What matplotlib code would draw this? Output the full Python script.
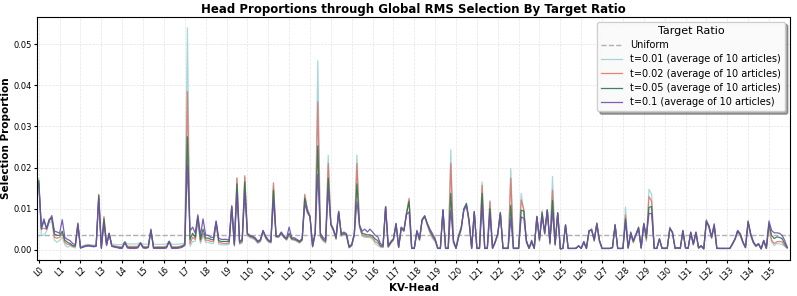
import numpy as np
import matplotlib
matplotlib.use("Agg")
import matplotlib.pyplot as plt

# selection proportion per KV head (36 layers x 8 heads), in units of 1e-3
n_layers = 36
heads_per_layer = 8

t001 = [
    17.3, 3.6, 3.5, 4.5, 6.5, 7.0, 2.3, 1.8,
    2.3, 3.0, 1.2, 0.6, 1.0, 0.6, 0.4, 5.8,
    0.7, 1.0, 1.2, 1.3, 1.2, 1.1, 1.2, 13.0,
    0.8, 7.5, 1.5, 3.5, 1.4, 1.3, 1.2, 1.2,
    1.3, 2.0, 1.4, 1.4, 1.4, 1.4, 1.4, 1.8,
    1.4, 1.3, 1.4, 4.3, 1.3, 1.3, 1.3, 1.3,
    1.3, 1.4, 2.1, 1.3, 1.3, 1.3, 1.4, 1.5,
    1.6, 54.0, 0.8, 2.0, 2.0, 7.0, 1.5, 3.5,
    1.8, 1.8, 1.5, 1.5, 6.3, 1.3, 1.2, 1.1,
    1.2, 1.3, 10.5, 0.8, 17.3, 1.3, 1.6, 17.6,
    3.4, 2.9, 2.7, 2.3, 1.5, 1.9, 4.4, 2.7,
    1.9, 1.6, 15.5, 3.0, 3.0, 3.9, 2.9, 2.3,
    3.4, 2.4, 2.3, 2.0, 1.6, 2.2, 13.0, 10.0,
    8.4, 0.6, 4.0, 46.0, 3.0, 2.1, 1.6, 23.0,
    5.9, 4.5, 2.5, 9.5, 3.3, 3.7, 3.3, 0.4,
    0.9, 3.5, 23.0, 5.5, 3.3, 3.0, 3.0, 2.9,
    2.5, 1.5, 1.0, 0.6, 0.5, 10.5, 0.5, 1.5,
    2.3, 6.1, 0.5, 5.2, 4.4, 9.0, 12.0, 0.3,
    0.3, 4.2, 2.2, 7.0, 7.9, 5.8, 4.0, 2.7,
    1.9, 0.3, 0.3, 9.6, 0.3, 0.3, 24.3, 1.6,
    0.3, 2.8, 4.8, 9.6, 10.5, 6.6, 0.3, 9.0,
    0.3, 0.3, 16.5, 0.3, 0.3, 12.0, 0.3, 1.6,
    3.6, 9.2, 0.3, 0.3, 0.3, 19.8, 0.3, 0.3,
    0.3, 13.7, 9.2, 1.6, 0.3, 1.6, 0.3, 8.2,
    2.0, 9.5, 3.6, 9.6, 1.2, 17.8, 1.0, 8.9,
    0.2, 0.3, 6.1, 0.3, 0.3, 0.3, 0.3, 0.8,
    0.3, 1.7, 0.3, 4.2, 5.2, 2.0, 6.6, 1.9,
    0.3, 0.3, 0.3, 0.3, 0.5, 6.2, 0.3, 0.3,
    0.3, 10.4, 0.3, 3.6, 1.6, 3.6, 5.0, 0.3,
    6.5, 2.0, 14.7, 13.5, 0.3, 0.3, 2.4, 0.3,
    0.3, 0.3, 5.5, 3.8, 0.3, 0.3, 0.3, 4.4,
    0.3, 0.3, 4.0, 1.1, 4.0, 0.3, 0.7, 0.2,
    7.0, 5.2, 2.7, 5.6, 0.3, 0.3, 0.3, 0.3,
    0.3, 0.3, 1.2, 2.4, 4.2, 3.3, 1.6, 0.4,
    6.4, 3.3, 1.6, 0.7, 1.2, 0.2, 2.0, 0.3,
    5.5, 1.9, 1.0, 1.5, 1.4, 1.3, 0.8, 0.3,
]

t002 = [
    16.5, 5.0, 5.2, 5.0, 7.5, 7.5, 3.0, 2.8,
    3.0, 4.0, 1.8, 1.3, 1.2, 0.8, 0.7, 6.2,
    0.5, 0.8, 1.0, 1.1, 1.0, 0.9, 1.0, 13.5,
    0.5, 8.1, 1.3, 3.8, 1.0, 0.9, 0.8, 0.7,
    0.7, 1.9, 0.8, 0.8, 0.8, 0.8, 0.8, 1.7,
    0.8, 0.7, 0.8, 4.6, 0.7, 0.7, 0.7, 0.7,
    0.7, 0.8, 2.0, 0.7, 0.7, 0.7, 0.8, 1.0,
    1.4, 38.5, 1.5, 3.0, 2.5, 7.5, 2.0, 4.0,
    2.3, 2.3, 2.0, 2.0, 6.6, 1.8, 1.6, 1.5,
    1.5, 1.6, 10.8, 1.0, 17.5, 1.5, 1.9, 18.0,
    3.6, 3.1, 2.9, 2.5, 1.7, 2.1, 4.5, 2.9,
    2.0, 1.7, 16.3, 3.1, 3.1, 4.0, 3.0, 2.4,
    3.6, 2.5, 2.4, 2.1, 1.7, 2.3, 13.5, 9.8,
    8.2, 0.7, 4.0, 36.0, 3.2, 2.3, 1.8, 21.0,
    6.0, 4.6, 2.6, 9.3, 3.4, 3.8, 3.4, 0.5,
    1.0, 3.6, 21.0, 5.6, 3.6, 3.3, 3.2, 3.2,
    2.9, 2.0, 1.6, 0.8, 0.6, 10.5, 0.6, 1.6,
    2.4, 6.2, 0.5, 5.3, 4.5, 8.9, 12.5, 0.3,
    0.3, 4.3, 2.3, 7.2, 8.1, 6.0, 4.3, 3.0,
    2.1, 0.3, 0.3, 9.7, 0.3, 0.3, 21.0, 1.8,
    0.3, 3.0, 5.0, 9.8, 10.8, 6.8, 0.3, 9.2,
    0.3, 0.3, 15.7, 0.3, 0.3, 11.7, 0.3, 1.7,
    3.7, 9.0, 0.3, 0.3, 0.3, 17.4, 0.3, 0.3,
    0.3, 12.1, 9.8, 1.8, 0.3, 1.8, 0.3, 8.1,
    2.2, 9.2, 3.8, 9.7, 1.4, 14.5, 1.1, 9.0,
    0.2, 0.3, 6.0, 0.3, 0.3, 0.3, 0.3, 0.9,
    0.3, 1.8, 0.3, 4.4, 5.0, 2.1, 6.4, 2.0,
    0.3, 0.3, 0.3, 0.3, 0.5, 6.1, 0.3, 0.3,
    0.3, 8.4, 0.4, 3.8, 1.8, 3.9, 5.3, 0.4,
    6.4, 2.4, 12.9, 11.8, 0.3, 0.3, 2.5, 0.3,
    0.3, 0.3, 5.4, 4.0, 0.3, 0.4, 0.3, 4.5,
    0.4, 0.3, 4.1, 1.2, 4.1, 0.4, 0.8, 0.2,
    7.3, 5.4, 2.8, 5.8, 0.3, 0.3, 0.3, 0.3,
    0.3, 0.3, 1.3, 2.5, 4.4, 3.5, 1.7, 0.5,
    6.6, 3.5, 1.7, 0.8, 1.3, 0.2, 2.1, 0.3,
    6.0, 2.3, 1.5, 1.9, 2.0, 1.9, 1.0, 0.4,
]

t005 = [
    16.8, 5.0, 7.0, 5.2, 7.2, 7.8, 3.8, 3.5,
    3.5, 4.5, 2.3, 1.8, 1.5, 1.0, 0.9, 6.0,
    0.4, 0.7, 0.9, 1.0, 0.9, 0.8, 0.9, 13.2,
    0.4, 7.5, 1.2, 4.0, 0.9, 0.8, 0.6, 0.5,
    0.5, 1.8, 0.6, 0.5, 0.5, 0.5, 0.6, 1.6,
    0.6, 0.5, 0.6, 4.8, 0.5, 0.5, 0.5, 0.5,
    0.5, 0.6, 2.0, 0.5, 0.5, 0.5, 0.6, 0.8,
    1.2, 27.5, 2.5, 4.0, 3.0, 8.0, 2.5, 5.0,
    2.8, 2.8, 2.5, 2.4, 6.8, 2.2, 2.0, 2.0,
    2.0, 2.0, 10.5, 1.2, 16.0, 1.8, 2.2, 16.5,
    3.8, 3.3, 3.1, 2.7, 1.9, 2.3, 4.6, 3.1,
    2.2, 1.9, 14.5, 3.2, 3.2, 4.1, 3.1, 2.6,
    4.0, 2.7, 2.6, 2.3, 1.9, 2.5, 12.5, 9.5,
    8.0, 0.8, 4.0, 25.3, 3.5, 2.6, 2.1, 17.4,
    6.2, 4.8, 2.8, 9.2, 3.6, 4.0, 3.6, 0.6,
    1.1, 3.7, 16.0, 5.8, 4.0, 3.8, 3.6, 3.6,
    3.3, 2.6, 2.2, 1.0, 0.8, 10.4, 0.8, 1.8,
    2.5, 6.3, 0.6, 5.4, 4.6, 8.7, 11.7, 0.3,
    0.3, 4.5, 2.5, 7.4, 8.3, 6.3, 4.6, 3.4,
    2.4, 0.3, 0.3, 9.7, 0.3, 0.3, 13.7, 2.0,
    0.3, 3.2, 5.2, 10.0, 11.3, 7.0, 0.3, 9.3,
    0.3, 0.3, 13.7, 0.3, 0.3, 10.0, 0.3, 1.8,
    3.8, 9.0, 0.3, 0.3, 0.3, 10.8, 0.3, 0.3,
    0.3, 9.6, 9.4, 2.0, 0.3, 2.0, 0.3, 8.0,
    2.4, 9.0, 4.0, 9.7, 1.6, 12.0, 1.3, 9.0,
    0.2, 0.3, 6.0, 0.3, 0.3, 0.3, 0.3, 0.9,
    0.3, 1.9, 0.3, 4.6, 4.8, 2.3, 6.2, 2.2,
    0.3, 0.3, 0.3, 0.3, 0.5, 6.0, 0.3, 0.3,
    0.3, 7.5, 0.4, 4.0, 2.0, 3.7, 5.5, 0.4,
    6.3, 2.8, 10.3, 10.5, 0.3, 0.3, 2.6, 0.3,
    0.3, 0.3, 5.2, 4.2, 0.3, 0.4, 0.3, 4.6,
    0.4, 0.3, 4.2, 1.3, 4.2, 0.4, 0.9, 0.2,
    7.0, 5.6, 3.0, 6.0, 0.3, 0.3, 0.3, 0.3,
    0.3, 0.3, 1.4, 2.6, 4.6, 3.7, 1.8, 0.5,
    7.0, 3.7, 1.8, 0.9, 1.4, 0.2, 2.2, 0.3,
    6.3, 3.5, 2.7, 3.1, 3.0, 2.7, 1.5, 0.5,
]

t01 = [
    16.0, 5.5, 7.5, 5.0, 7.0, 8.3, 4.5, 4.3,
    4.0, 7.3, 3.0, 2.5, 2.2, 1.5, 1.2, 6.5,
    0.4, 0.6, 0.8, 0.9, 0.8, 0.7, 0.8, 12.5,
    0.3, 6.5, 1.0, 4.0, 0.8, 0.6, 0.5, 0.3,
    0.3, 1.7, 0.4, 0.3, 0.3, 0.3, 0.4, 1.5,
    0.4, 0.3, 0.5, 5.0, 0.3, 0.3, 0.3, 0.3,
    0.3, 0.4, 2.0, 0.3, 0.3, 0.3, 0.4, 0.6,
    1.0, 20.5, 4.5, 5.5, 4.0, 8.5, 3.5, 7.5,
    3.5, 3.5, 3.0, 3.0, 7.0, 2.8, 2.5, 2.5,
    2.5, 2.3, 10.4, 1.5, 13.5, 2.0, 2.5, 13.5,
    4.0, 3.5, 3.3, 2.9, 2.1, 2.5, 4.7, 3.3,
    2.4, 2.0, 12.0, 3.3, 3.3, 4.3, 3.3, 2.8,
    5.5, 2.9, 2.9, 2.5, 2.1, 2.7, 11.2, 9.0,
    8.0, 1.0, 4.0, 18.4, 4.0, 3.0, 2.5, 14.5,
    6.4, 5.0, 3.1, 9.2, 3.9, 4.3, 3.9, 0.8,
    1.3, 3.9, 11.7, 6.0, 4.5, 5.0, 4.3, 5.0,
    4.3, 3.5, 3.1, 1.5, 1.0, 10.4, 1.0, 2.0,
    2.7, 6.4, 0.7, 5.5, 4.7, 8.5, 9.2, 0.4,
    0.4, 4.7, 2.7, 7.2, 8.0, 6.4, 5.0, 3.9,
    2.7, 0.4, 0.4, 9.6, 0.4, 0.4, 9.6, 2.3,
    0.4, 3.5, 5.5, 9.6, 10.8, 7.2, 0.4, 9.2,
    0.4, 0.4, 10.8, 0.4, 0.4, 8.8, 0.4, 2.0,
    3.9, 8.8, 0.4, 0.4, 0.4, 7.6, 0.4, 0.4,
    0.4, 8.0, 7.6, 2.3, 0.4, 2.3, 0.4, 8.0,
    2.7, 8.0, 4.3, 9.6, 1.9, 9.2, 1.5, 8.8,
    0.2, 0.4, 6.0, 0.3, 0.3, 0.3, 0.4, 1.0,
    0.3, 2.0, 0.3, 4.7, 4.7, 2.5, 6.4, 2.3,
    0.3, 0.3, 0.3, 0.3, 0.5, 6.0, 0.3, 0.3,
    0.3, 6.8, 0.5, 4.3, 2.3, 3.5, 5.1, 0.5,
    6.2, 3.5, 8.8, 8.8, 0.3, 0.3, 2.7, 0.4,
    0.4, 0.4, 5.1, 4.3, 0.4, 0.5, 0.4, 4.7,
    0.5, 0.4, 4.3, 1.5, 4.3, 0.5, 1.0, 0.2,
    6.8, 5.9, 3.1, 6.3, 0.4, 0.3, 0.3, 0.3,
    0.3, 0.3, 1.5, 2.7, 4.7, 3.9, 2.0, 0.6,
    6.8, 3.9, 2.0, 1.0, 1.5, 0.2, 2.3, 0.4,
    7.0, 4.7, 4.1, 4.1, 4.0, 3.5, 2.3, 0.6,
]

series = [
    ("t=0.01 (average of 10 articles)", t001, "#9dd3d5"),
    ("t=0.02 (average of 10 articles)", t002, "#e0766a"),
    ("t=0.05 (average of 10 articles)", t005, "#2b7552"),
    ("t=0.1 (average of 10 articles)", t01, "#6c4eac"),
]

n_heads = n_layers * heads_per_layer
x = np.arange(n_heads)
layer_labels = [f"L{i}" for i in range(n_layers)]

fig, ax = plt.subplots(figsize=(7.97, 2.96), dpi=100)
fig.subplots_adjust(left=0.047, right=0.991, bottom=0.122, top=0.943)

ax.axhline(1 / n_heads, color="#b0b0b0", linestyle="--", linewidth=1.0, label="Uniform")
for label, vals, color in series:
    ax.plot(x, np.array(vals) / 1000, color=color, linewidth=0.9, alpha=0.9, label=label)

ax.set_xlim(-0.5, 288)
ax.set_xticks(np.arange(0, n_heads, heads_per_layer))
ax.set_xticklabels(layer_labels, rotation=45, fontsize=6)
ax.tick_params(axis="y", labelsize=6)
ax.tick_params(axis="both", length=2.5, pad=1.5)
ax.grid(True, linestyle="--", linewidth=0.5, color="#dddddd", alpha=0.8)

ax.set_title("Head Proportions through Global RMS Selection By Target Ratio",
             fontsize=8.5, fontweight="bold", pad=3)
ax.set_xlabel("KV-Head", fontsize=7.5, fontweight="bold", labelpad=0)
ax.set_ylabel("Selection Proportion", fontsize=7.5, fontweight="bold", labelpad=2)

leg = ax.legend(title="Target Ratio", loc="upper right", fontsize=7, title_fontsize=8,
                shadow=True, fancybox=True, framealpha=0.95, borderpad=0.4,
                labelspacing=0.45, handlelength=2.2)

fig.savefig("out.png", dpi=100)
